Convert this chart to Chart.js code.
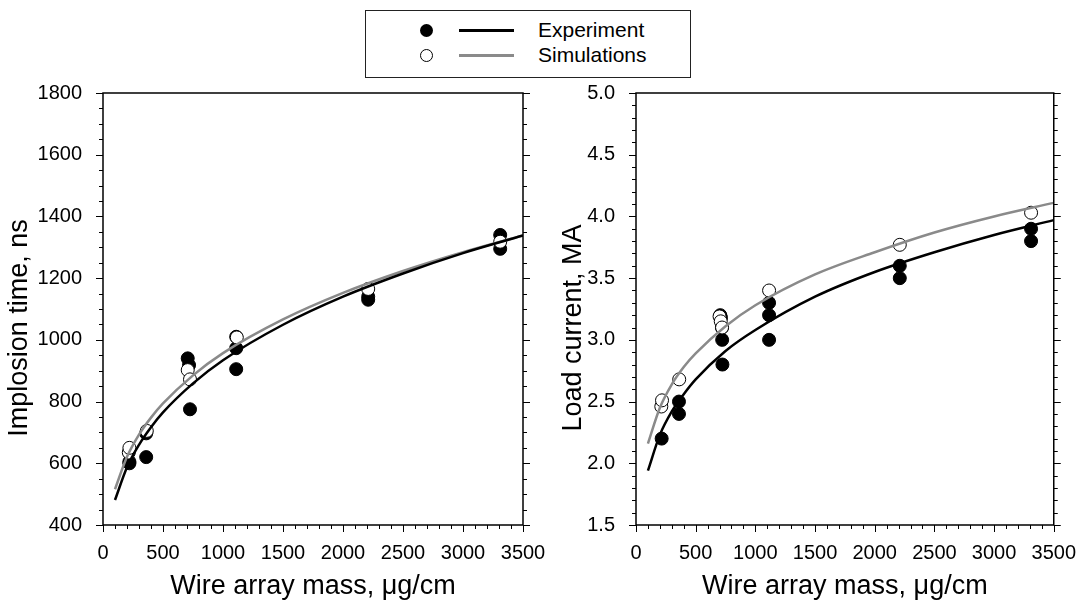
<!DOCTYPE html>
<html>
<head>
<meta charset="utf-8">
<script src="https://cdn.jsdelivr.net/npm/chart.js@4"></script>
<style>
  body { margin:0; background:#fff; width:1084px; height:603px; overflow:hidden; position:relative;
         font-family:'Liberation Sans', Arial, sans-serif; }
  #c-left { position:absolute; left:0; top:0; }
  #c-right { position:absolute; left:560px; top:0; }
  .legend { position:absolute; left:365px; top:10px; width:324px; height:66px; border:1.5px solid #222; background:#fff; }
  .row { position:absolute; left:0; height:24px; }
  .dot { position:absolute; left:54px; top:6px; width:13px; height:13px; border-radius:50%; box-sizing:border-box; }
  .ln { position:absolute; left:93px; top:11px; width:55px; height:2.5px; }
  .txt { position:absolute; left:172px; top:0; font-size:21px; line-height:24px; white-space:nowrap; }
</style>
</head>
<body>
<canvas id="c-left" width="560" height="603"></canvas>
<canvas id="c-right" width="524" height="603"></canvas>
<div class="legend">
  <div class="row" style="top:7px">
    <span class="dot" style="background:#000"></span>
    <span class="ln" style="background:#000"></span>
    <span class="txt">Experiment</span>
  </div>
  <div class="row" style="top:32px">
    <span class="dot" style="background:#fff;border:1px solid #000"></span>
    <span class="ln" style="background:#8a8a8a"></span>
    <span class="txt">Simulations</span>
  </div>
</div>
<script>
// ── data: implosion time ──
const timeExpMass = [220, 220, 360, 360, 706, 717, 725, 1110, 1110, 1110, 2210, 2210, 3310, 3310];
const timeExp     = [600, 605, 620, 697, 940, 918, 775, 1010, 973, 905, 1130, 1140, 1340, 1295];
const timeSimMass = [215, 220, 365, 706, 725, 1115, 2210, 3310];
const timeSim     = [635, 650, 705, 902, 872, 1008, 1165, 1318];
// fitted curves
const curveMass   = [100, 200, 300, 400, 500, 750, 1000, 1500, 2000, 2500, 3000, 3500];
const timeExpFit  = [481, 587, 660, 717, 765, 859, 934, 1049, 1140, 1215, 1281, 1338];
const timeSimFit  = [516, 621, 693, 748, 794, 885, 957, 1066, 1152, 1223, 1284, 1338];

// ── data: load current ──
const curExpMass = [215, 360, 360, 706, 712, 720, 722, 724, 1115, 1115, 1115, 2210, 2210, 3310, 3310];
const curExp     = [2.2, 2.5, 2.4, 3.2, 3.18, 3.1, 3.0, 2.8, 3.3, 3.2, 3.0, 3.6, 3.5, 3.9, 3.8];
const curSimMass = [212, 218, 362, 700, 710, 721, 1115, 2210, 3310];
const curSim     = [2.46, 2.51, 2.68, 3.19, 3.15, 3.1, 3.4, 3.77, 4.03];
const curExpFit  = [1.94, 2.23, 2.42, 2.56, 2.68, 2.91, 3.08, 3.35, 3.55, 3.71, 3.85, 3.97];
const curSimFit  = [2.16, 2.45, 2.64, 2.78, 2.89, 3.11, 3.28, 3.53, 3.71, 3.87, 4.00, 4.11];

Chart.defaults.font.family = "'Liberation Sans', Arial, sans-serif";
Chart.defaults.color = '#000';

const pts = (xs, ys) => xs.map((x, i) => ({x, y: ys[i]}));
const isMult = (v, m) => Math.abs(v / m - Math.round(v / m)) < 1e-6;

// frame, outward ticks (major/minor) and the y title
const frameTicks = {
    id: 'frameTicks',
    afterDraw(chart, args, o) {
        const {ctx, chartArea: a, scales: {x, y}} = chart;
        ctx.save();
        ctx.strokeStyle = '#000';
        ctx.lineWidth = 1;
        ctx.beginPath();
        for (let v = x.min; v <= x.max + 1e-9; v += o.xMinor) {
            const px = Math.round(x.getPixelForValue(v)) + 0.5;
            const len = isMult(v, o.xMajor) ? 7 : 4;
            ctx.moveTo(px, a.bottom); ctx.lineTo(px, a.bottom + len);
        }
        for (let v = y.min; v <= y.max + 1e-9; v += o.yMinor) {
            const py = Math.round(y.getPixelForValue(v)) + 0.5;
            const len = isMult(v, o.yMajor) ? 7 : 4;
            ctx.moveTo(a.left, py); ctx.lineTo(a.left - len, py);
            ctx.moveTo(a.right, py); ctx.lineTo(a.right + len, py);
        }
        ctx.stroke();
        ctx.lineWidth = 1.5;
        ctx.strokeRect(a.left, a.top, a.right - a.left, a.bottom - a.top);

        ctx.translate(o.titleX, o.titleY);
        ctx.rotate(-Math.PI / 2);
        ctx.font = "27px 'Liberation Sans', Arial, sans-serif";
        ctx.fillStyle = '#000';
        ctx.textAlign = 'center';
        ctx.textBaseline = 'middle';
        ctx.fillText(o.title, 0, 0);
        ctx.restore();
    }
};

function makePanel(id, cfg) {
    new Chart(document.getElementById(id), {
        type: 'scatter',
        data: {
            datasets: [
                { type: 'line', data: pts(curveMass, cfg.expFit), borderColor: '#000', borderWidth: 2.5,
                  pointRadius: 0, cubicInterpolationMode: 'monotone', order: 0 },
                { type: 'line', data: pts(curveMass, cfg.simFit), borderColor: '#8a8a8a', borderWidth: 2.5,
                  pointRadius: 0, cubicInterpolationMode: 'monotone', order: 0 },
                { data: pts(cfg.simMass, cfg.sim), pointRadius: 6.5, pointBackgroundColor: '#fff',
                  pointBorderColor: '#000', pointBorderWidth: 1, order: 1 },
                { data: pts(cfg.expMass, cfg.exp), pointRadius: 6.5, pointBackgroundColor: '#000',
                  pointBorderColor: '#000', pointBorderWidth: 1, order: 2 },
            ]
        },
        options: {
            responsive: false,
            animation: false,
            layout: { padding: { top: 93, right: cfg.padRight, left: 0, bottom: 0 } },
            plugins: {
                legend: { display: false },
                tooltip: { enabled: false },
                frameTicks: { xMinor: 100, xMajor: 500, yMinor: cfg.yMinor, yMajor: cfg.yMajor,
                              title: cfg.yTitle, titleX: cfg.titleX, titleY: 328 }
            },
            scales: {
                x: {
                    type: 'linear', min: 0, max: 3500,
                    grid: { display: false }, border: { display: false },
                    ticks: { stepSize: 100, autoSkip: false, maxRotation: 0, padding: 8,
                             font: { size: 20 },
                             callback: v => isMult(v, 500) ? String(v) : '' },
                    title: { display: true, text: 'Wire array mass, \u03bcg/cm', font: { size: 27 },
                             padding: { top: 0, bottom: 0 } },
                    afterFit: s => { s.height = 78; }
                },
                y: {
                    min: cfg.yMin, max: cfg.yMax,
                    grid: { display: false }, border: { display: false },
                    ticks: { stepSize: cfg.yMinor, autoSkip: false, padding: 13,
                             font: { size: 20 },
                             callback: v => isMult(v, cfg.yMajor) ? cfg.fmt(v) : '' },
                    title: { display: false },
                    afterFit: s => { s.width = cfg.yWidth; }
                }
            }
        },
        plugins: [frameTicks]
    });
}

makePanel('c-left', {
    expMass: timeExpMass, exp: timeExp, simMass: timeSimMass, sim: timeSim,
    expFit: timeExpFit, simFit: timeSimFit,
    yMin: 400, yMax: 1800, yMinor: 50, yMajor: 200, fmt: v => String(v),
    yTitle: 'Implosion time, ns', yWidth: 103, padRight: 37, titleX: 20
});
makePanel('c-right', {
    expMass: curExpMass, exp: curExp, simMass: curSimMass, sim: curSim,
    expFit: curExpFit, simFit: curSimFit,
    yMin: 1.5, yMax: 5.0, yMinor: 0.1, yMajor: 0.5, fmt: v => v.toFixed(1),
    yTitle: 'Load current, MA', yWidth: 76, padRight: 29, titleX: 14
});
</script>
</body>
</html>
